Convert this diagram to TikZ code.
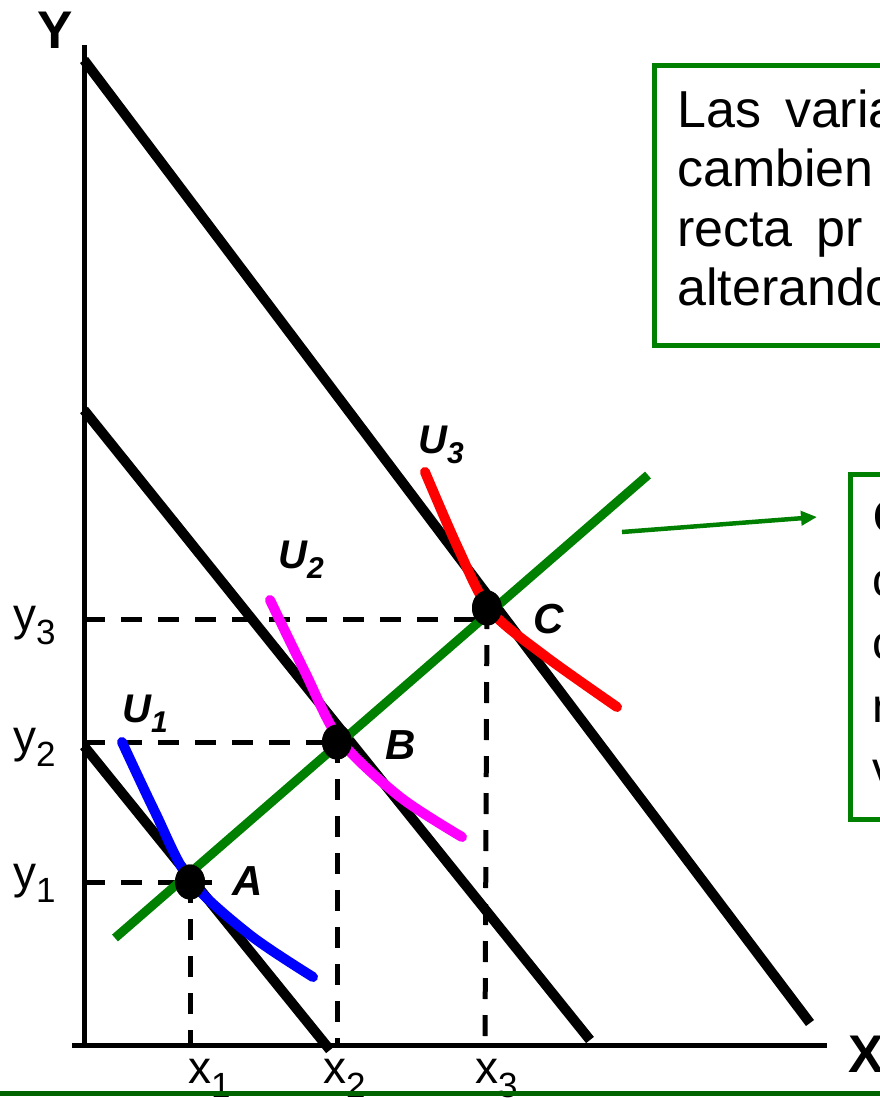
\documentclass[tikz,border=0pt]{standalone}
\usepackage{fontspec}
\setmainfont{Liberation Sans}
\usetikzlibrary{shapes.geometric,arrows.meta}
\definecolor{lgreen}{RGB}{0,128,0}
\definecolor{dgreen}{RGB}{0,100,0}
\definecolor{umag}{RGB}{255,0,255}
\definecolor{ublue}{RGB}{0,0,255}
\definecolor{ured}{RGB}{255,0,0}
\newcommand{\lsub}[1]{\raisebox{-0.32em}{\fontsize{35}{35}\selectfont #1}}
\newcommand{\usub}[1]{\raisebox{-0.25em}{\fontsize{30}{30}\selectfont #1}}

\begin{document}
\begin{tikzpicture}[x=1pt, y=-1pt,
  axis/.style={line width=5pt},
  guide/.style={line width=5pt, dash pattern=on 21pt off 16pt},
  budget/.style={line width=10pt},
  icc/.style={line width=9pt, lgreen},
  indiff/.style={line width=10pt, line cap=round, line join=round},
  dot/.style={ellipse, fill=black, inner sep=0pt, minimum width=30pt, minimum height=35pt},
  axlbl/.style={inner sep=0pt, anchor=base west, font=\fontsize{46}{46}\selectfont},
  axname/.style={inner sep=0pt, anchor=base west, font=\fontsize{53}{53}\selectfont\bfseries},
  ulbl/.style={inner sep=0pt, anchor=base west, font=\fontsize{40}{40}\selectfont\bfseries\itshape},
  ptlbl/.style={inner sep=0pt, anchor=base west, font=\fontsize{42}{42}\selectfont\bfseries\itshape},
  note/.style={draw=lgreen, line width=4.5pt, anchor=north west, inner sep=0pt},
  notetext/.style={inner sep=0pt, anchor=base west, font=\fontsize{52}{52}\selectfont}]
\useasboundingbox (0,0) rectangle (880,1098);
\clip (0,0) rectangle (880,1098);

\coordinate (O) at (84,1045);
\coordinate (Ytop) at (84,45);
\coordinate (Xl) at (72,1045);
\coordinate (Xr) at (827,1045);
\coordinate (ya) at (84,882);
\coordinate (yb) at (84,742);
\coordinate (yc) at (84,619);
\coordinate (L1a) at (84,746);
\coordinate (L1b) at (330,1050);
\coordinate (L2a) at (84,410);
\coordinate (L2b) at (590,1040);
\coordinate (L3a) at (84,60);
\coordinate (L3b) at (810,1023);
\coordinate (Ga) at (115,938);
\coordinate (Gb) at (648,475);
\coordinate (arrS) at (622,532);
\coordinate (gl) at (0,1093);
\coordinate (gr) at (880,1093);

\node[dot] (A) at (190,882) {};
\node[dot] (B) at (337,742) {};
\node[dot] (C) at (487,608) {};

\draw[guide, shorten >=-22pt] (ya) -- (A.center);
\draw[guide] (yb) -- (B.center);
\draw[guide] (yc) -- (yc -| C);
\draw[guide] (A.center) -- (A |- O);
\draw[guide] (B.center) -- (B |- O);
\draw[guide] (C.center) -- ([xshift=-2pt]C |- O);

\draw[axis] (Ytop) -- (O);
\draw[axis] (Xl) -- (Xr);

\draw[budget] (L1a) -- (L1b);
\draw[budget] (L2a) -- (L2b);
\draw[budget] (L3a) -- (L3b);

\draw[icc] (Ga) -- (Gb);

\draw[indiff, ublue] plot[smooth] coordinates {(122,742) (155,812) (190,880) (250,935) (313,977)};
\draw[indiff, umag] plot[smooth] coordinates {(270,600) (305,672) (340,740) (400,797) (462,837)};
\draw[indiff, ured] plot[smooth] coordinates {(425,472) (458,548) (490,610) (545,656) (617,707)};

\node[dot] at (A) {};
\node[dot] at (B) {};
\node[dot] at (C) {};

\node[axname] (ylab) at (37,48) {Y};
\node[axname] (xlab) at (848,1072) {X};
\node[axlbl] (y1) at (13,888) {y\lsub{1}};
\node[axlbl] (y2) at (13,752) {y\lsub{2}};
\node[axlbl] (y3) at (13,630) {y\lsub{3}};
\node[axlbl] (x1) at (188,1083) {x\lsub{1}};
\node[axlbl] (x2) at (323,1083) {x\lsub{2}};
\node[axlbl] (x3) at (475,1083) {x\lsub{3}};

\node[ulbl] (u1) at (122,722) {U\usub{1}};
\node[ulbl] (u2) at (278,568) {U\usub{2}};
\node[ulbl] (u3) at (418,453) {U\usub{3}};
\node[ptlbl] (la) at (232,895) {A};
\node[ptlbl] (lb) at (385,759) {B};
\node[ptlbl] (lc) at (533,633) {C};

\node[note, minimum width=300pt, minimum height=280pt] (note1) at (652,63) {};
\node[notetext] (n1a) at (677,127) {Las\hspace{24pt}varia};
\node[notetext] (n1b) at (677,186.5) {cambien};
\node[notetext] (n1c) at (677,246) {recta\hspace{24pt}pr};
\node[notetext] (n1d) at (677,305.5) {alterando};

\node[note, minimum width=100pt, minimum height=345pt] (note2) at (848,472) {};
\node[notetext, font=\fontsize{48}{48}\selectfont\bfseries] (n2a) at (873,533) {C};
\node[notetext, font=\fontsize{48}{48}\selectfont] (n2b) at (872,596) {c};
\node[notetext, font=\fontsize{48}{48}\selectfont] (n2c) at (872,659) {c};
\node[notetext, font=\fontsize{48}{48}\selectfont] (n2d) at (872,722) {r};
\node[notetext, font=\fontsize{48}{48}\selectfont] (n2e) at (872,785) {v};

\draw[-{Triangle[length=16pt,width=14pt]}, line width=4.5pt, lgreen] (arrS) -- ([xshift=-31pt,yshift=-45pt]note2.north west);

\draw[line width=5pt, dgreen] (gl) -- (gr);
\end{tikzpicture}
\end{document}
